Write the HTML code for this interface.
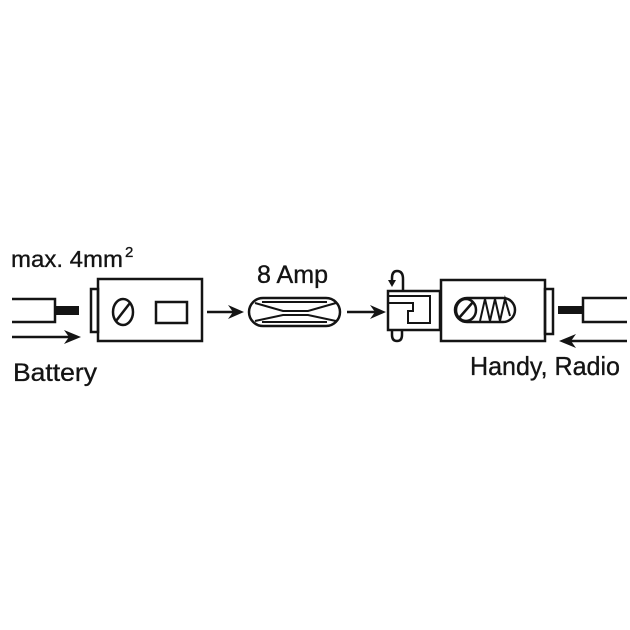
<!DOCTYPE html>
<html>
<head>
<meta charset="utf-8">
<style>
  html,body{margin:0;padding:0;background:#fff;}
  svg{display:block;}
  text{font-family:"Liberation Sans",sans-serif;fill:#141414;stroke:#141414;stroke-width:0.35;}
</style>
</head>
<body>
<svg width="630" height="630" viewBox="0 0 630 630" xmlns="http://www.w3.org/2000/svg">
  <rect width="630" height="630" fill="#fff"/>
  <g stroke="#141414" stroke-width="2.5" fill="none" stroke-linejoin="miter">
    <!-- left wire -->
    <path d="M12,299 H55 V322 H12"/>
    <rect x="55" y="306" width="24" height="9" fill="#141414" stroke="none"/>
    <!-- left arrow -->
    <line x1="12" y1="337" x2="70" y2="337"/>
    <!-- left plate -->
    <rect x="91" y="289" width="7" height="43"/>
    <!-- left box -->
    <rect x="98" y="279" width="104" height="62"/>
    <ellipse cx="123" cy="312" rx="10" ry="13"/>
    <line x1="116" y1="321" x2="130" y2="303"/>
    <rect x="156" y="302" width="31" height="21"/>
    <!-- arrow 1 -->
    <line x1="207" y1="312" x2="233" y2="312"/>
    <!-- fuse -->
    <rect x="249" y="298" width="91" height="28" rx="14"/>
    <line x1="262" y1="302" x2="327" y2="302" stroke-width="2"/>
    <line x1="262" y1="322" x2="327" y2="322" stroke-width="2"/>
    <path d="M255,303 L283,311 H308 L336,303" stroke-width="2"/>
    <path d="M255,321 L283,315 H308 L336,321" stroke-width="2"/>
    <!-- arrow 2 -->
    <line x1="347" y1="312" x2="375" y2="312"/>
    <!-- holder -->
    <rect x="388" y="291" width="52" height="39"/>
    <path d="M388,296 H430 V323 H408 V311 H413 V303 H388" stroke-width="2"/>
    <path d="M403,291 V279 Q403,271 397,271 Q392,271 392,278 V282"/>
    <path d="M392,330 V335 Q392,341 397,341 Q402,341 402,335 V330"/>
    <!-- right box -->
    <rect x="441" y="280" width="104" height="61"/>
    <rect x="455" y="298" width="60" height="24" rx="12"/>
    <ellipse cx="466" cy="310" rx="10" ry="11"/>
    <line x1="459" y1="318" x2="473" y2="302"/>
    <polyline points="480,321 485,299 490,321 495,299 500,321 505,299 510,316" stroke-width="2"/>
    <!-- right plate -->
    <rect x="545" y="289" width="8" height="45"/>
    <!-- right wire -->
    <path d="M627,298 H583 V322 H627"/>
    <rect x="558" y="306" width="25" height="8" fill="#141414" stroke="none"/>
    <!-- right arrow -->
    <line x1="570" y1="341" x2="627" y2="341"/>
  </g>
  <g fill="#141414">
    <!-- arrowheads -->
    <path d="M81,337 L64,330 L69,337 L64,344 Z"/>
    <path d="M244,312 L228,305 L233,312 L228,319 Z"/>
    <path d="M386,312 L370,305 L375,312 L370,319 Z"/>
    <path d="M559,341 L576,334 L571,341 L576,348 Z"/>
    <path d="M392,287 L388,280 L396,280 Z"/>
  </g>
  <text x="11" y="267" font-size="23" textLength="112" lengthAdjust="spacingAndGlyphs">max. 4mm</text>
  <text x="125" y="257" font-size="15">2</text>
  <text x="257" y="283" font-size="25" textLength="71" lengthAdjust="spacingAndGlyphs">8 Amp</text>
  <text x="13" y="381" font-size="25" textLength="84" lengthAdjust="spacingAndGlyphs">Battery</text>
  <text x="470" y="375" font-size="26" textLength="150" lengthAdjust="spacingAndGlyphs">Handy, Radio</text>
</svg>
</body>
</html>
